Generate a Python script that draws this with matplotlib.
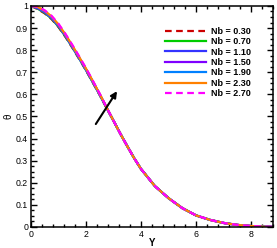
import matplotlib
matplotlib.use('Agg')
import matplotlib.pyplot as plt
from matplotlib.ticker import MultipleLocator, FormatStrFormatter

plt.rcParams['font.family'] = ['Liberation Sans', 'DejaVu Sans']

# Y positions, shared tail of the curves (they all overlap after Y=3)
y_head = [0, 0.25, 0.5, 0.75, 1.0, 1.25, 1.5, 1.75, 2.0, 2.25, 2.5, 2.75]
y_tail = [3.0, 3.25, 3.5, 3.75, 4.0, 4.5, 5.0, 5.5, 6.0, 6.5, 7.0, 7.5, 8.0, 8.5, 8.8]
theta_tail = [0.480, 0.421, 0.365, 0.311, 0.262, 0.185, 0.130, 0.085, 0.052,
              0.032, 0.018, 0.009, 0.004, 0.001, 0.0]

nb_labels = ['Nb = 0.30', 'Nb = 0.70', 'Nb = 1.10', 'Nb = 1.50',
             'Nb = 1.90', 'Nb = 2.30', 'Nb = 2.70']
theta_030 = [1.0, 0.985, 0.966, 0.940, 0.904, 0.860, 0.811, 0.760, 0.708, 0.652, 0.596, 0.537]
theta_070 = [1.0, 0.987, 0.968, 0.942, 0.906, 0.862, 0.813, 0.762, 0.709, 0.653, 0.597, 0.538]
theta_110 = [1.0, 0.989, 0.971, 0.945, 0.909, 0.865, 0.815, 0.764, 0.711, 0.655, 0.598, 0.538]
theta_150 = [1.0, 0.991, 0.973, 0.947, 0.911, 0.866, 0.817, 0.765, 0.712, 0.656, 0.599, 0.539]
theta_190 = [1.0, 0.993, 0.975, 0.949, 0.913, 0.868, 0.818, 0.766, 0.713, 0.657, 0.599, 0.539]
theta_230 = [1.0, 0.995, 0.978, 0.952, 0.916, 0.871, 0.821, 0.769, 0.716, 0.659, 0.601, 0.540]
theta_270 = [1.0, 0.997, 0.980, 0.955, 0.919, 0.874, 0.824, 0.772, 0.718, 0.661, 0.602, 0.541]

series = [theta_030, theta_070, theta_110, theta_150, theta_190, theta_230, theta_270]
colors = ['#cc0000', '#00cc00', '#3333ff', '#7f00ff', '#0080ff', '#ff8000', '#ff00ff']
styles = ['--', '-', '-', '-', '-', '-', '--']

fig = plt.figure(figsize=(2.77, 2.48), dpi=100)
ax = fig.add_axes([0.112, 0.085, 0.874, 0.891])

ys = y_head + y_tail
for th, c, ls, lab in zip(series, colors, styles, nb_labels):
    line, = ax.plot(ys, th + theta_tail, color=c, linestyle=ls, linewidth=1.6, label=lab)
    if ls == '--':
        line.set_dashes((3, 2))

ax.annotate('', xy=(3.18, 0.625), xytext=(2.3, 0.455),
            arrowprops=dict(arrowstyle='-|>', color='black', lw=1.5, mutation_scale=9))

ax.set_xlim(0, 8.8)
ax.set_ylim(0, 1)
ax.xaxis.set_major_locator(MultipleLocator(2))
ax.xaxis.set_minor_locator(MultipleLocator(0.4))
ax.yaxis.set_major_locator(MultipleLocator(0.1))
ax.yaxis.set_minor_locator(MultipleLocator(0.025))
ax.yaxis.set_major_formatter(FormatStrFormatter('%g'))
ax.tick_params(which='both', direction='in', top=True, right=True, labelsize=6.3, pad=2)
ax.tick_params(which='major', length=4, width=1)
ax.tick_params(which='minor', length=2.5, width=1)
for s in ax.spines.values():
    s.set_linewidth(1.1)

ax.set_xlabel('Y', fontsize=7, fontweight='bold')
ax.xaxis.set_label_coords(0.5, -0.05)
ax.set_ylabel('θ', fontsize=7, labelpad=2)

leg = ax.legend(loc='upper left', bbox_to_anchor=(0.555, 0.905), frameon=False,
                prop={'size': 6.5, 'weight': 'bold'}, handlelength=4.5,
                handletextpad=0.55, labelspacing=0.15, borderpad=0, borderaxespad=0)

fig.savefig('out.png', dpi=100)
